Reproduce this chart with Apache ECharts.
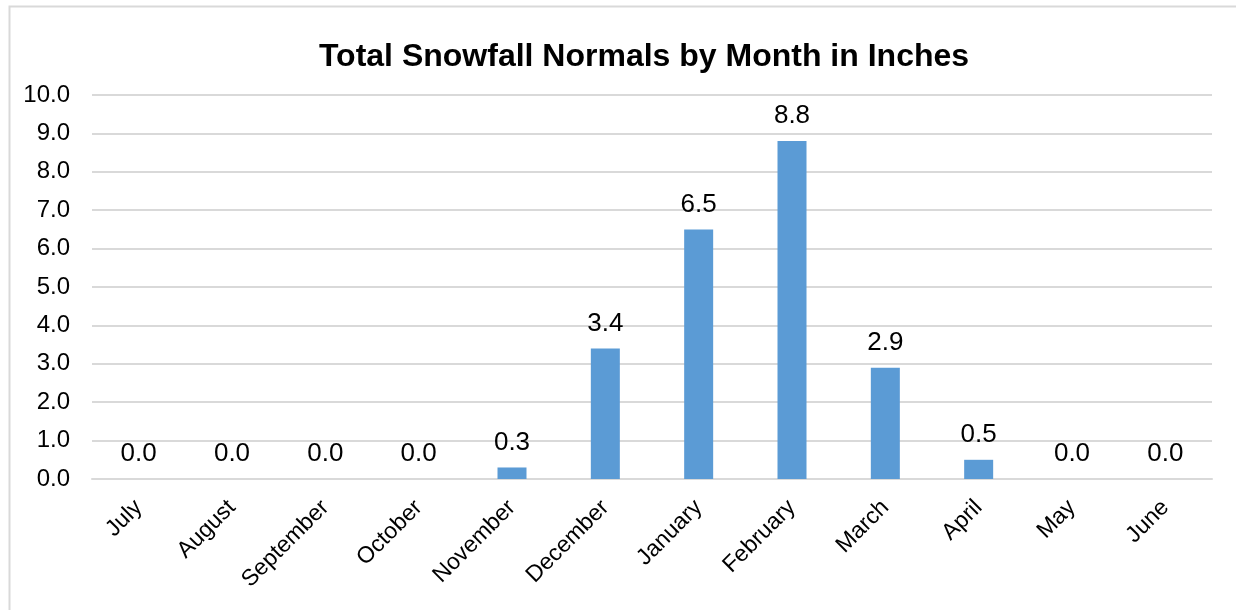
<!DOCTYPE html>
<html>
<head>
<meta charset="utf-8">
<script src="https://cdn.jsdelivr.net/npm/echarts@6/dist/echarts.min.js"></script>
<style>html,body{margin:0;padding:0;background:#fff;}#c{width:1236px;height:610px;}</style>
</head>
<body>
<div id="c"></div>
<script>
const titleText = 'Total Snowfall Normals by Month in Inches';
const months = ['July','August','September','October','November','December','January','February','March','April','May','June'];
const snowfall = [0.0, 0.0, 0.0, 0.0, 0.3, 3.4, 6.5, 8.8, 2.9, 0.5, 0.0, 0.0];
const yMin = 0, yMax = 10, yStep = 1;

const chart = echarts.init(document.getElementById('c'));
const font = 'Liberation Sans, Arial, sans-serif';
chart.setOption({
  animation: false,
  backgroundColor: '#fff',
  graphic: [{
    type: 'rect', left: 7, top: 4, shape: {width: 1300, height: 700},
    style: {fill: 'none', stroke: '#d9d9d9', lineWidth: 2}, silent: true
  }],
  title: {
    text: titleText, left: 639, top: 36, textAlign: 'center',
    textStyle: {fontFamily: font, fontSize: 32, fontWeight: 'bold', color: '#000'}
  },
  grid: {left: 92, right: 24, top: 95, bottom: 131, containLabel: false},
  xAxis: {
    type: 'category', data: months,
    axisLine: {lineStyle: {color: '#d9d9d9', width: 2}},
    axisTick: {show: false},
    axisLabel: {rotate: 45, fontFamily: font, fontSize: 23, color: '#000', margin: 25, interval: 0}
  },
  yAxis: {
    type: 'value', min: yMin, max: yMax, interval: yStep,
    axisLine: {show: false}, axisTick: {show: false},
    splitLine: {lineStyle: {color: '#d9d9d9', width: 2}},
    axisLabel: {fontFamily: font, fontSize: 24, color: '#000', margin: 22, formatter: v => v.toFixed(1)}
  },
  series: [{
    type: 'bar', data: snowfall, barWidth: 29,
    itemStyle: {color: '#5b9bd5'},
    label: {show: true, position: 'top', distance: 12, fontFamily: font, fontSize: 26, color: '#000',
      formatter: p => p.value.toFixed(1)}
  }]
});
</script>
</body>
</html>
